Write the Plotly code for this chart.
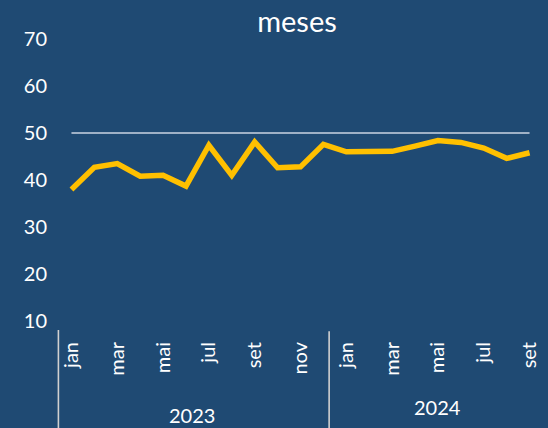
import plotly.graph_objects as go

# ---- data ----
months = ["jan", "fev", "mar", "abr", "mai", "jun", "jul", "ago", "set", "out", "nov", "dez",
          "jan", "fev", "mar", "abr", "mai", "jun", "jul", "ago", "set"]
years = ["2023", "2024"]
year_sizes = [12, 9]
values = [38.0, 42.7, 43.5, 40.8, 41.0, 38.7, 47.4, 41.0, 48.1, 42.6, 42.8, 47.6,
          46.0, 46.1, 46.1, 47.2, 48.4, 48.0, 46.8, 44.6, 45.8]
reference = [50, 50, 50, 50, 50, 50, 50, 50, 50, 50, 50, 50,
             50, 50, 50, 50, 50, 50, 50, 50, 50]
y_ticks = [10, 20, 30, 40, 50, 60, 70]

BG = "#1F4A73"
FONT = "Lato, Carlito, sans-serif"

x = list(range(len(months)))
xr = [-0.5, len(months) - 0.5]

fig = go.Figure()
fig.add_trace(go.Scatter(x=x, y=reference, mode="lines",
                         line=dict(color="#9FB1C6", width=2), hoverinfo="skip"))
fig.add_trace(go.Scatter(x=x, y=values, mode="lines",
                         line=dict(color="#FFC000", width=5.5)))

tickvals = x[::2]
ticktext = months[::2]

# year group separators and labels
plot_h = 428 - 38.5 - 107
def px(v):
    return (v - xr[0]) / (xr[1] - xr[0])

shapes = []
annotations = []
start = 0
sep_positions = [-0.57, 11.25]
for i, (yr, n) in enumerate(zip(years, year_sizes)):
    shapes.append(dict(type="line", xref="paper", yref="paper",
                       x0=px(sep_positions[i]), x1=px(sep_positions[i]),
                       y0=-0.032 if i == 0 else -0.036, y1=-0.38,
                       line=dict(color="#D0D0D0", width=1.6)))
    annotations.append(dict(text=yr, xref="paper", yref="paper",
                            x=px(start + (n - 1) / 2) + (-0.012 if i == 0 else 0.0),
                            y=-(415 - 321) / plot_h if i == 0 else -(407 - 321) / plot_h,
                            xanchor="center", yanchor="middle", showarrow=False,
                            font=dict(family=FONT, size=20, color="white")))
    start += n

fig.update_layout(
    width=548, height=428,
    paper_bgcolor=BG, plot_bgcolor=BG,
    margin=dict(l=60, r=6.5, t=38.5, b=107),
    showlegend=False,
    title=dict(text="meses", x=297 / 548, xanchor="center", y=1 - 22 / 428, yanchor="middle",
               font=dict(family=FONT, size=29, color="white")),
    font=dict(family=FONT, color="white"),
    shapes=shapes, annotations=annotations,
)
fig.update_xaxes(range=xr, tickvals=tickvals, ticktext=ticktext, tickangle=-90,
                 showgrid=False, zeroline=False, showline=False, ticks="",
                 ticklabelstandoff=16,
                 tickfont=dict(family=FONT, size=20, color="white"))
fig.update_yaxes(range=[10, 70], tickvals=y_ticks, showgrid=False, zeroline=False,
                 showline=False, ticks="", ticklabelstandoff=12,
                 tickfont=dict(family=FONT, size=20, color="white"))

fig.write_html("out.html", config={"displayModeBar": False},
               post_script="document.body.style.margin='0';document.body.style.overflow='hidden';")
